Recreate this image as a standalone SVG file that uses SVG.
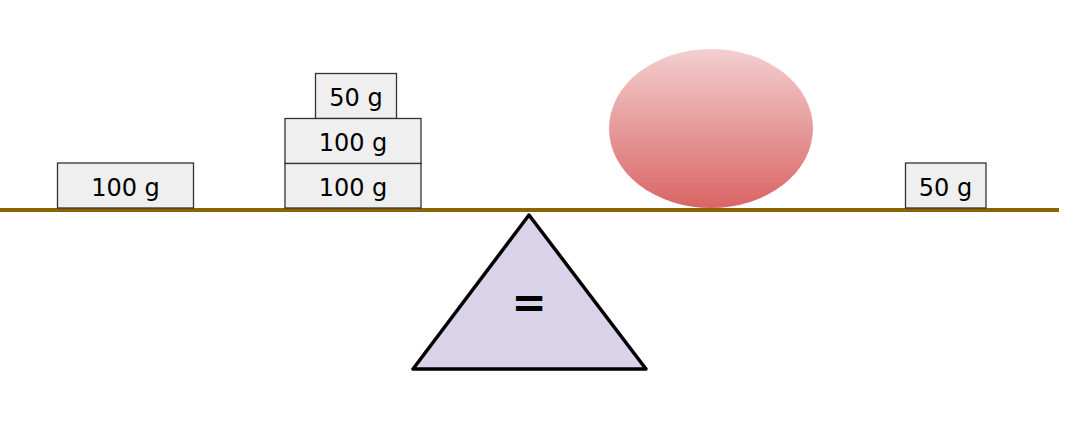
<svg xmlns="http://www.w3.org/2000/svg" width="1073" height="444" viewBox="0 0 1073 444">
<style>
.box{fill:#efefef;stroke:#333;stroke-width:1.3}
.lbl{font-family:"DejaVu Sans",sans-serif;font-size:24px;fill:#000;text-anchor:middle}
.eq{font-family:"DejaVu Sans",sans-serif;font-size:42px;font-weight:bold;fill:#000;text-anchor:middle}
</style>
<defs>
<linearGradient id="redg" x1="0" y1="0" x2="0" y2="1">
<stop offset="0" stop-color="#f3cfcf"/>
<stop offset="1" stop-color="#da6565"/>
</linearGradient>
</defs>
<g id="beam"><line x1="0" y1="210" x2="1059" y2="210" stroke="#8a6400" stroke-width="4"/></g>
<g id="fulcrum">
<polygon points="529,215 413,369 646,369" fill="#d9d2e9" stroke="#000" stroke-width="3.5" stroke-linejoin="round"/>
<text class="eq" x="529" y="317">=</text>
</g>
<g id="w-left-100"><rect class="box" x="57.5" y="163" width="136" height="45"/><text class="lbl" x="125.5" y="195.5">100 g</text></g>
<g id="w-stack-50"><rect class="box" x="315.5" y="73.5" width="81" height="45"/><text class="lbl" x="356" y="106">50 g</text></g>
<g id="w-stack-100a"><rect class="box" x="285" y="118.5" width="136" height="45"/><text class="lbl" x="353" y="151">100 g</text></g>
<g id="w-stack-100b"><rect class="box" x="285" y="163.5" width="136" height="44.5"/><text class="lbl" x="353" y="196">100 g</text></g>
<g id="ball"><ellipse cx="711" cy="128.5" rx="102" ry="79.5" fill="url(#redg)"/></g>
<g id="w-right-50"><rect class="box" x="905.5" y="163" width="80.5" height="45"/><text class="lbl" x="945.5" y="195.5">50 g</text></g>
</svg>
